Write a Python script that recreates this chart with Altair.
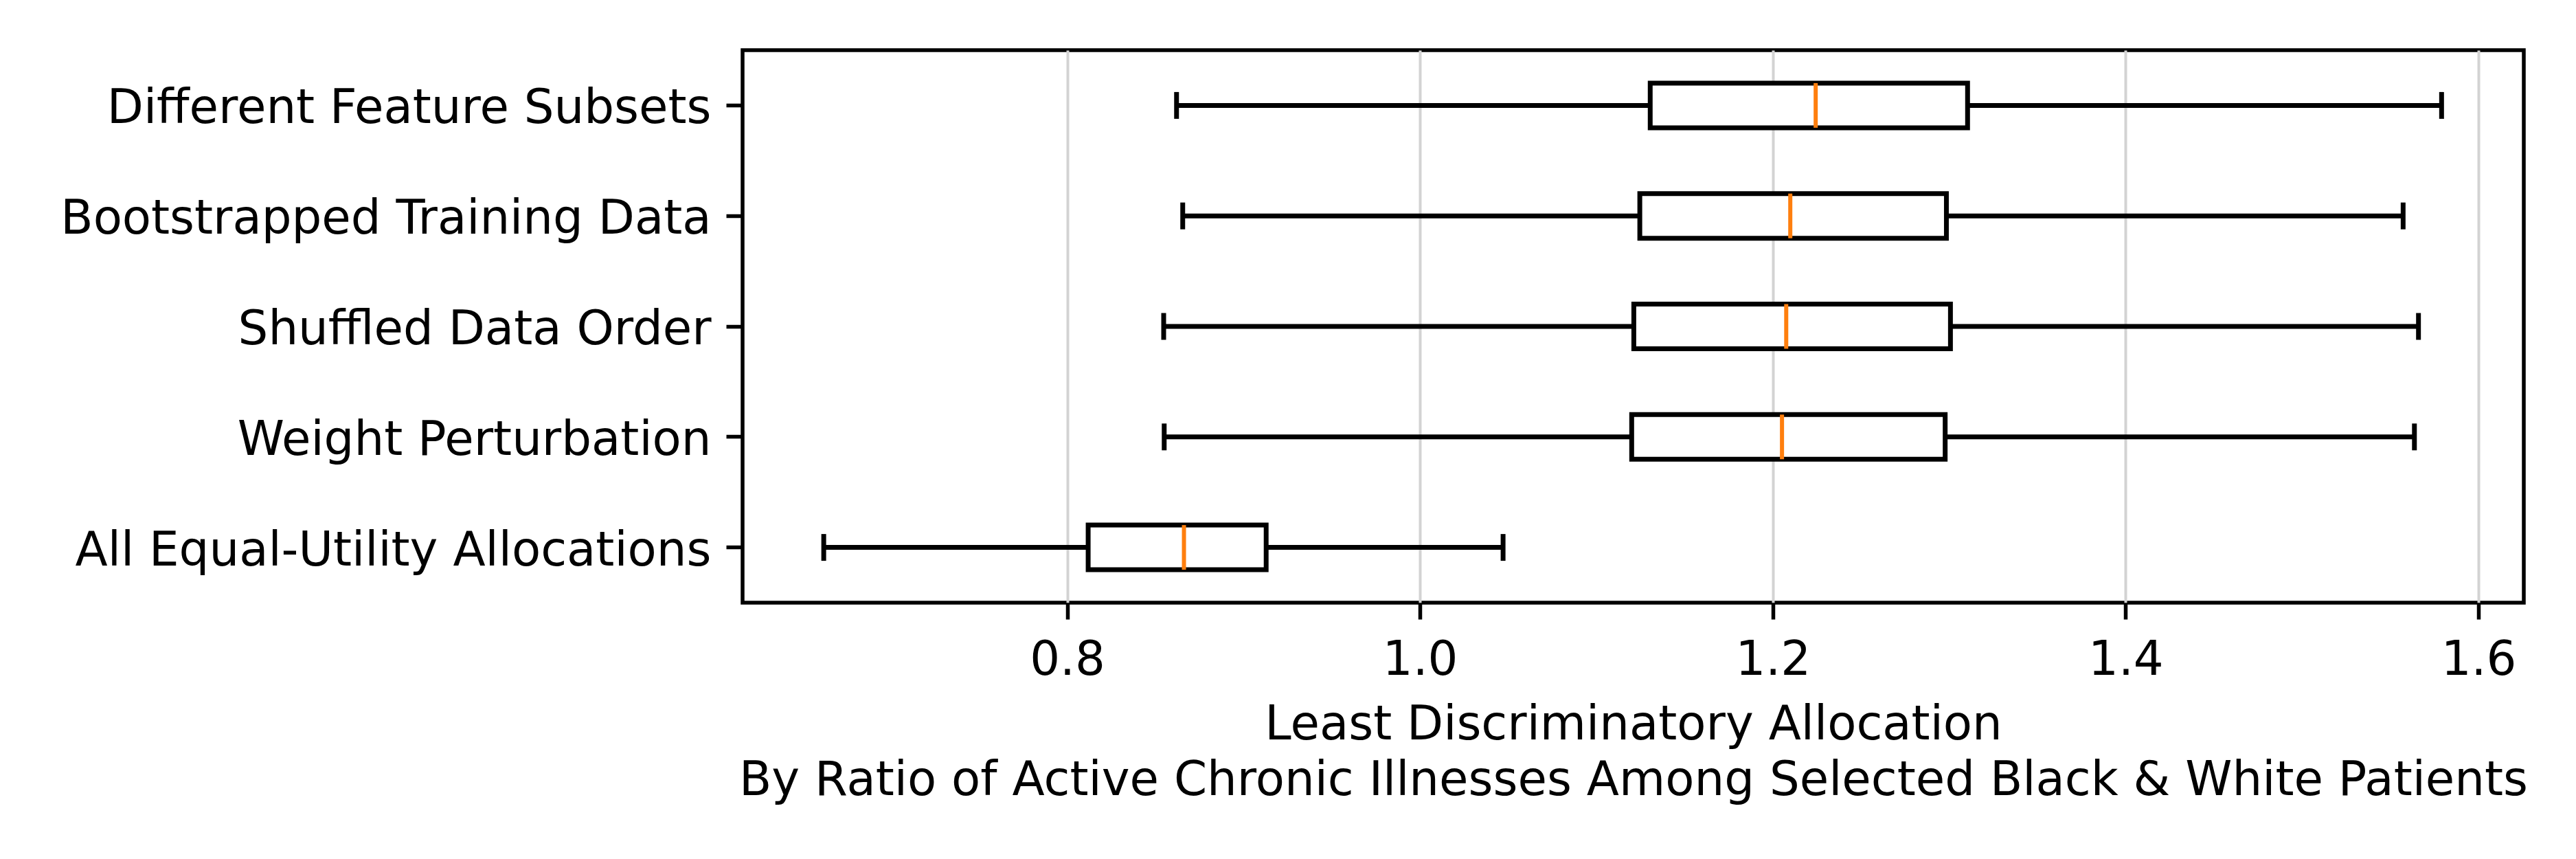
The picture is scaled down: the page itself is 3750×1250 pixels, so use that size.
import altair as alt
import pandas as pd

categories = [
    "Different Feature Subsets",
    "Bootstrapped Training Data",
    "Shuffled Data Order",
    "Weight Perturbation",
    "All Equal-Utility Allocations",
]
whisker_low = [0.862, 0.8655, 0.8547, 0.855, 0.662]
q1 = [1.1305, 1.1246, 1.1212, 1.1200, 0.8119]
median = [1.2243, 1.2099, 1.2076, 1.2052, 0.8662]
q3 = [1.3104, 1.2984, 1.3007, 1.2977, 0.9128]
whisker_high = [1.5791, 1.5573, 1.5660, 1.5637, 1.0471]

df = pd.DataFrame({
    "cat": categories,
    "low": whisker_low,
    "q1": q1,
    "median": median,
    "q3": q3,
    "high": whisker_high,
})

FONT = "DejaVu Sans"
xscale = alt.Scale(domain=[0.616, 1.6257], nice=False, zero=False)
yenc = alt.Y("cat:N", sort=categories,
             scale=alt.Scale(paddingInner=0, paddingOuter=0),
             axis=alt.Axis(title=None, labelFontSize=69, labelFont=FONT,
                           labelColor="black", tickSize=24, tickWidth=5.5,
                           tickColor="black", tickOpacity=1, labelPadding=22,
                           labelOffset=5,
                           domain=False, grid=False, labelLimit=2000))

xaxis = alt.Axis(
    values=[0.8, 1.0, 1.2, 1.4, 1.6], format=".1f",
    title=["Least Discriminatory Allocation",
           "By Ratio of Active Chronic Illnesses Among Selected Black & White Patients"],
    titleFontSize=69, titleFont=FONT, titleFontWeight="normal", titleColor="black",
    titleLineHeight=81, titlePadding=25,
    labelFontSize=69, labelFont=FONT, labelColor="black", labelPadding=25,
    tickSize=24, tickWidth=5.5, tickColor="black", tickOpacity=1, domain=False,
    grid=True, gridColor="#d3d3d3", gridWidth=4, gridOpacity=1,
)

base = alt.Chart(df)

whiskers = base.mark_rule(color="black", strokeWidth=7, opacity=1).encode(
    x=alt.X("low:Q", scale=xscale, axis=xaxis),
    x2="high:Q",
    y=yenc,
)
box = base.mark_bar(size=65, fill="white", stroke="black", strokeWidth=7,
                    opacity=1, fillOpacity=1).encode(
    x=alt.X("q1:Q", scale=xscale),
    x2="q3:Q",
    y=alt.Y("cat:N", sort=categories),
)
med = base.mark_tick(color="#ff7f0e", size=65, thickness=6, orient="vertical",
                     opacity=1).encode(
    x=alt.X("median:Q", scale=xscale),
    y=alt.Y("cat:N", sort=categories),
)
cap_lo = base.mark_tick(color="black", size=39, thickness=7, orient="vertical",
                        opacity=1).encode(
    x=alt.X("low:Q", scale=xscale),
    y=alt.Y("cat:N", sort=categories),
)
cap_hi = base.mark_tick(color="black", size=39, thickness=7, orient="vertical",
                        opacity=1).encode(
    x=alt.X("high:Q", scale=xscale),
    y=alt.Y("cat:N", sort=categories),
)

chart = alt.layer(whiskers, box, med, cap_lo, cap_hi).properties(
    width=2593, height=804,
    autosize=alt.AutoSizeParams(type="none"),
    padding={"left": 1073, "top": 65, "right": 60, "bottom": 300},
    background="white",
).configure_view(
    stroke="black", strokeWidth=5.5, strokeOpacity=1
)

chart.save("out.html", embed_options={"renderer": "svg", "actions": False})
